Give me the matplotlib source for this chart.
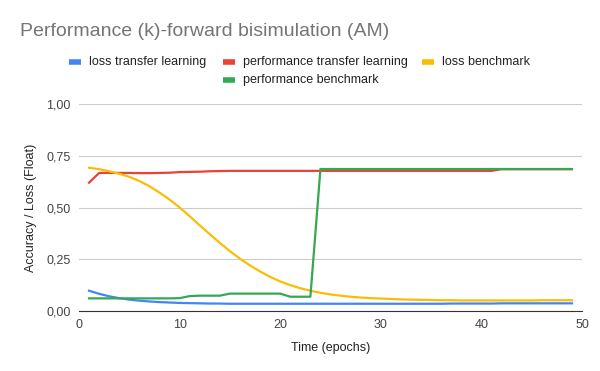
import matplotlib.pyplot as plt
from matplotlib.lines import Line2D
from matplotlib.ticker import FuncFormatter
import numpy as np

plt.rcParams['font.family'] = ['Liberation Sans', 'DejaVu Sans']

epochs = np.arange(1, 50)

loss_tl = [0.098, 0.083, 0.071, 0.062, 0.055, 0.050, 0.046, 0.043, 0.041, 0.039,
           0.038, 0.037, 0.036, 0.036, 0.035, 0.035, 0.035, 0.035, 0.035, 0.035,
           0.035, 0.035, 0.035, 0.035, 0.035, 0.035, 0.035, 0.035, 0.035, 0.035,
           0.035, 0.035, 0.035, 0.035, 0.035, 0.035, 0.036, 0.036, 0.036, 0.036,
           0.036, 0.037, 0.037, 0.037, 0.037, 0.037, 0.037, 0.037, 0.037]

perf_tl = [0.620, 0.667, 0.667, 0.667, 0.667, 0.666, 0.666, 0.667, 0.668, 0.671,
           0.672, 0.673, 0.675, 0.676, 0.677, 0.677, 0.677, 0.677, 0.677, 0.677,
           0.677, 0.677, 0.677, 0.677, 0.677, 0.677, 0.677, 0.677, 0.677, 0.677,
           0.677, 0.677, 0.677, 0.677, 0.677, 0.677, 0.677, 0.677, 0.677, 0.677,
           0.677, 0.685, 0.685, 0.685, 0.685, 0.685, 0.685, 0.685, 0.685]

loss_bm = [0.692, 0.685, 0.675, 0.663, 0.648, 0.628, 0.603, 0.572, 0.538, 0.500,
           0.458, 0.414, 0.371, 0.329, 0.289, 0.253, 0.220, 0.191, 0.165, 0.143,
           0.125, 0.110, 0.098, 0.088, 0.080, 0.074, 0.069, 0.065, 0.062, 0.060,
           0.058, 0.056, 0.055, 0.054, 0.053, 0.052, 0.052, 0.051, 0.051, 0.051,
           0.051, 0.051, 0.051, 0.051, 0.051, 0.052, 0.052, 0.052, 0.052]

perf_bm = [0.061, 0.061, 0.061, 0.061, 0.061, 0.061, 0.061, 0.061, 0.061, 0.062,
           0.072, 0.074, 0.074, 0.074, 0.084, 0.084, 0.084, 0.084, 0.084, 0.084,
           0.069, 0.069, 0.069, 0.686, 0.686, 0.686, 0.686, 0.686, 0.686, 0.686,
           0.686, 0.686, 0.686, 0.686, 0.686, 0.686, 0.686, 0.686, 0.686, 0.686,
           0.686, 0.686, 0.686, 0.686, 0.686, 0.686, 0.686, 0.686, 0.686]

series = ['loss transfer learning', 'performance transfer learning',
          'loss benchmark', 'performance benchmark']
colors = ['#4285f4', '#ea4335', '#fbbc04', '#34a853']

fig = plt.figure(figsize=(6, 3.71), dpi=100)
ax = fig.add_axes([79 / 600, 1 - 311 / 371, (582 - 79) / 600, (311 - 104) / 371])

for vals, c in zip([loss_tl, perf_tl, loss_bm, perf_bm], colors):
    ax.plot(epochs, vals, color=c, lw=1.6, solid_joinstyle='round')

ax.set_xlim(0, 50)
ax.set_ylim(0, 1)
ax.set_xticks([0, 10, 20, 30, 40, 50])
ax.set_yticks([0, 0.25, 0.5, 0.75, 1.0])
ax.yaxis.set_major_formatter(FuncFormatter(lambda v, p: f'{v:.2f}'.replace('.', ',')))
ax.grid(axis='y', color='#cccccc', lw=0.8)
ax.set_axisbelow(True)
for s in ['top', 'right', 'left']:
    ax.spines[s].set_visible(False)
ax.spines['bottom'].set_color('#333333')
ax.tick_params(length=0, labelsize=9, labelcolor='#444444', pad=6)
ax.set_xlabel('Time (epochs)', fontsize=9, color='#222222', labelpad=8)
ax.set_ylabel('Accuracy / Loss (Float)', fontsize=9, color='#222222', labelpad=7)

fig.text(20 / 600, 1 - 31 / 371, 'Performance (k)-forward bisimulation (AM)',
         fontsize=14, color='#757575', va='center', ha='left')

# legend, laid out like the Sheets one (3 on top, 1 below the middle entry)
legend_pos = [(69, 62), (223, 62), (422, 62), (223, 80)]
for name, c, (px, py) in zip(series, colors, legend_pos):
    y = 1 - py / 371
    fig.add_artist(Line2D([px / 600, (px + 12) / 600], [y, y], color=c, lw=4,
                          solid_capstyle='butt', transform=fig.transFigure))
    fig.text((px + 20) / 600, y, name, fontsize=9, color='#222222',
             va='center', ha='left')

fig.savefig('out.png', dpi=100)
